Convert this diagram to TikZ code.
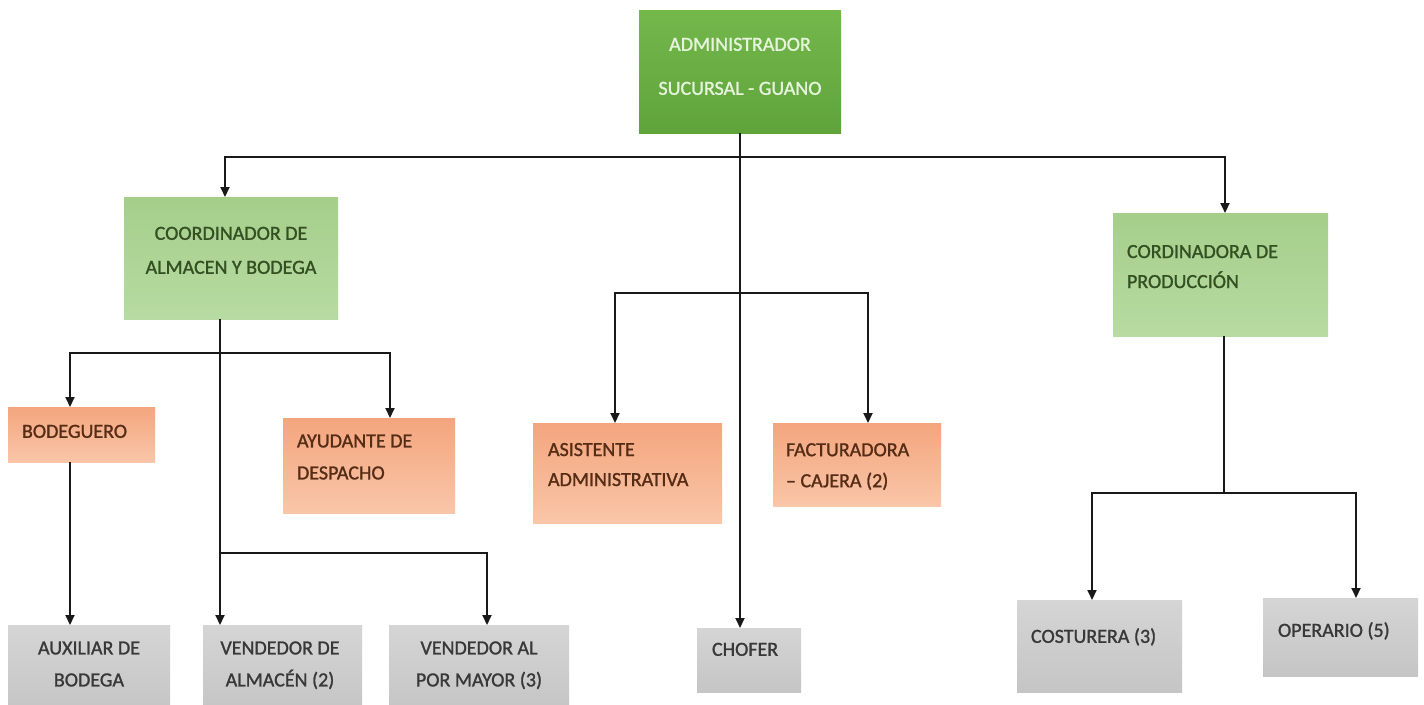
\documentclass[tikz,border=0pt]{standalone}
\usepackage{fontspec}
\setmainfont{Carlito}[BoldFont={Carlito}, BoldFeatures={FakeBold=1.2}]
\usetikzlibrary{arrows.meta,calc}
\definecolor{admtop}{HTML}{74B84C}
\definecolor{admbot}{HTML}{5FA43B}
\definecolor{admtext}{HTML}{E6F4DC}
\definecolor{grntop}{HTML}{A5CE8A}
\definecolor{grnbot}{HTML}{B7DBA2}
\definecolor{grntext}{HTML}{335022}
\definecolor{orgtop}{HTML}{F4A57E}
\definecolor{orgbot}{HTML}{F9C6A8}
\definecolor{orgtext}{HTML}{552C16}
\definecolor{grytop}{HTML}{D5D5D5}
\definecolor{grybot}{HTML}{C5C5C5}
\definecolor{grytext}{HTML}{383838}
\begin{document}
\begin{tikzpicture}[x=1pt,y=-1pt,
  boxbase/.style={draw=none, inner sep=0pt, outer sep=0pt},
  admbox/.style={boxbase, top color=admtop, bottom color=admbot},
  grnbox/.style={boxbase, top color=grntop, bottom color=grnbot},
  orgbox/.style={boxbase, top color=orgtop, bottom color=orgbot},
  grybox/.style={boxbase, top color=grytop, bottom color=grybot},
  txt/.style={inner sep=0pt, outer sep=0pt, font=\fontsize{20}{24}\selectfont\bfseries},
  conn/.style={draw=black!90, line width=2pt, -{Triangle[length=10pt,width=9pt]}},
  plain/.style={draw=black!90, line width=2pt}
]
\useasboundingbox (0,0) rectangle (1424,704);
\clip (0,0) rectangle (1424,704);
\fill[white] (0,0) rectangle (1424,704);

% boxes
\node[admbox, minimum width=202pt, minimum height=123pt] (adm) at (740,71.5) {};
\node[grnbox, minimum width=214pt, minimum height=122pt] (coord) at (231,258) {};
\node[grnbox, minimum width=215pt, minimum height=123pt] (prod) at (1220.5,274.5) {};
\node[orgbox, minimum width=147pt, minimum height=55pt] (bod) at (81.5,434.5) {};
\node[orgbox, minimum width=172pt, minimum height=95pt] (ayu) at (369,465.5) {};
\node[orgbox, minimum width=189pt, minimum height=100pt] (asi) at (627.5,473) {};
\node[orgbox, minimum width=168pt, minimum height=83pt] (fac) at (857,464.5) {};
\node[grybox, minimum width=162pt, minimum height=85pt] (aux) at (89,667.5) {};
\node[grybox, minimum width=159pt, minimum height=85pt] (vda) at (282.5,667.5) {};
\node[grybox, minimum width=180pt, minimum height=85pt] (vpm) at (479,667.5) {};
\node[grybox, minimum width=104pt, minimum height=64pt] (cho) at (749,660) {};
\node[grybox, minimum width=165pt, minimum height=92pt] (cos) at (1099.5,646) {};
\node[grybox, minimum width=155pt, minimum height=78pt] (ope) at (1340.5,637) {};

% texts
\node[txt, text=admtext, align=center, font=\fontsize{20}{44}\selectfont\bfseries] (tadm) at (740,64) {\strut ADMINISTRADOR\\\strut SUCURSAL - GUANO};
\node[txt, text=grntext, align=center, font=\fontsize{20}{34}\selectfont\bfseries] (tcoord) at (231,250) {\strut COORDINADOR DE\\\strut ALMACEN Y BODEGA};
\node[txt, text=grntext, align=left, anchor=west, font=\fontsize{20}{30}\selectfont\bfseries] (tprod) at (1127,267) {\strut CORDINADORA DE\\\strut PRODUCCIÓN};
\node[txt, text=orgtext, anchor=west] (tbod) at (22,433) {\strut BODEGUERO};
\node[txt, text=orgtext, align=left, anchor=west, font=\fontsize{20}{32}\selectfont\bfseries] (tayu) at (297,457) {\strut AYUDANTE DE\\\strut DESPACHO};
\node[txt, text=orgtext, align=left, anchor=west, font=\fontsize{20}{30}\selectfont\bfseries] (tasi) at (548,465) {\strut ASISTENTE\\\strut ADMINISTRATIVA};
\node[txt, text=orgtext, align=left, anchor=west, font=\fontsize{20}{31}\selectfont\bfseries] (tfac) at (786,465.5) {\strut FACTURADORA\\\strut – CAJERA (2)};
\node[txt, text=grytext, align=center, font=\fontsize{20}{32}\selectfont\bfseries] (taux) at (89,664) {\strut AUXILIAR DE\\\strut BODEGA};
\node[txt, text=grytext, align=center, font=\fontsize{20}{32}\selectfont\bfseries] (tvda) at (280,664) {\strut VENDEDOR DE\\\strut ALMACÉN (2)};
\node[txt, text=grytext, align=center, font=\fontsize{20}{32}\selectfont\bfseries] (tvpm) at (479,664) {\strut VENDEDOR AL\\\strut POR MAYOR (3)};
\node[txt, text=grytext, anchor=west] (tcho) at (712,651) {\strut CHOFER};
\node[txt, text=grytext, anchor=west] (tcos) at (1031,638) {\strut COSTURERA (3)};
\node[txt, text=grytext, anchor=west] (tope) at (1278,632) {\strut OPERARIO (5)};

% connectors
\coordinate (j1) at (740,157);
\coordinate (j2) at (740,293);
\coordinate (j3) at (220,353);
\coordinate (j4) at (220,553);
\coordinate (j5) at (1224,493);
\draw[conn] (adm.south) -- (adm.south |- cho.north);
\draw[conn] (j1) -| ([xshift=-6pt]coord.north);
\draw[conn] (j1) -| ([xshift=4.5pt]prod.north);
\draw[conn] (j2) -| ([xshift=-12.5pt]asi.north);
\draw[conn] (j2) -| ([xshift=11pt]fac.north);
\draw[conn] ([xshift=-11pt]coord.south) -- ([xshift=-11pt]coord.south |- vda.north);
\draw[conn] (j3) -| ([xshift=-11.5pt]bod.north);
\draw[conn] (j3) -| ([xshift=21pt]ayu.north);
\draw[conn] ([xshift=-11.5pt]bod.south) -- ([xshift=-11.5pt]bod.south |- aux.north);
\draw[conn] (j4) -| ([xshift=8pt]vpm.north);
\draw[plain] ([xshift=3.5pt]prod.south) -- (j5);
\draw[conn] (j5) -| ([xshift=-7.5pt]cos.north);
\draw[conn] (j5) -| ([xshift=15.5pt]ope.north);
\end{tikzpicture}
\end{document}
